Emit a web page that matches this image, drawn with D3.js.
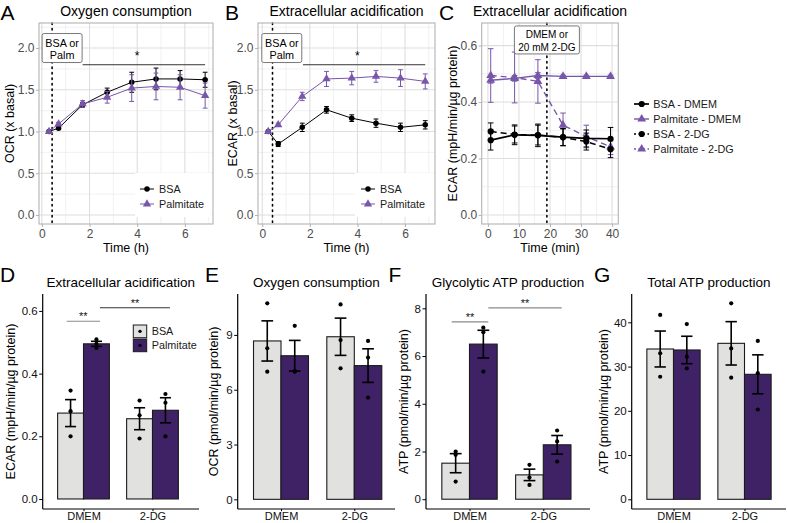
<!DOCTYPE html>
<html><head><meta charset="utf-8">
<script src="https://cdn.jsdelivr.net/npm/d3@7/dist/d3.min.js"></script>
<style>html,body{margin:0;padding:0;background:#fff}svg{display:block}</style>
</head><body>
<svg id="fig" width="787" height="523"></svg>
<script>
// ---------------- DATA ----------------
// Panels A & B: fold over basal, time in hours
const timeA = [0.3, 0.7, 1.71, 2.74, 3.77, 4.79, 5.8, 6.85];
const ocrBSA = [1.0, 1.04, 1.32, 1.47, 1.59, 1.63, 1.63, 1.62];
const ocrBSAse = [0, 0.015, 0.03, 0.05, 0.12, 0.13, 0.10, 0.09];
const ocrPalm = [1.0, 1.09, 1.33, 1.41, 1.52, 1.54, 1.53, 1.43];
const ocrPalmse = [0, 0.02, 0.04, 0.07, 0.16, 0.16, 0.15, 0.15];
const timeB = [0.25, 0.67, 1.68, 2.7, 3.76, 4.78, 5.81, 6.85];
const ecarBSA = [1.0, 0.85, 1.05, 1.26, 1.16, 1.10, 1.05, 1.08];
const ecarBSAse = [0, 0.03, 0.05, 0.04, 0.04, 0.05, 0.05, 0.05];
const ecarPalm = [1.0, 1.08, 1.42, 1.63, 1.64, 1.66, 1.64, 1.60];
const ecarPalmse = [0, 0.02, 0.05, 0.09, 0.08, 0.07, 0.10, 0.09];
const injectAB = 0.43;
const labelAB = ["BSA or", "Palm"];
const sigAB = {from: 1.71, to: 6.85, y: 1.8, at: 4, text: "*"};
const legendAB = ["BSA", "Palmitate"];

// Panel C: ECAR, time in minutes
const timeC = [0.9, 8.6, 16.1, 24.2, 31.7, 39.5];
const seriesC = ["BSA - DMEM", "Palmitate - DMEM", "BSA - 2-DG", "Palmitate - 2-DG"];
const cBSA_DMEM = [0.265, 0.284, 0.282, 0.276, 0.271, 0.270];
const cBSA_DMEMse = [0.035, 0.035, 0.04, 0.03, 0.03, 0.04];
const cPalm_DMEM = [0.477, 0.484, 0.494, 0.491, 0.491, 0.491];
const cPalm_DMEMse = [0.01, 0.01, 0.01, 0.004, 0.004, 0.004];
const cBSA_2DG = [0.296, 0.285, 0.283, 0.275, 0.260, 0.233];
const cBSA_2DGse = [0.03, 0.03, 0.035, 0.03, 0.03, 0.03];
const cPalm_2DG = [0.494, 0.487, 0.473, 0.318, 0.278, 0.241];
const cPalm_2DGse = [0.095, 0.09, 0.077, 0.043, 0.04, 0.027];
const injectC = 19;
const labelC = ["DMEM or", "20 mM 2-DG"];

// Bar panels D-G
const barGroups = ["DMEM", "2-DG"];
const barTreat = ["BSA", "Palmitate"];
const dBSA = [0.274, 0.256], dBSAse = [0.043, 0.035];
const dPalm = [0.495, 0.283], dPalmse = [0.008, 0.04];
const dBSApts = [[0.346, 0.28, 0.2], [0.314, 0.267, 0.193]];
const dPalmpts = [[0.509, 0.495, 0.482], [0.335, 0.307, 0.2]];
const eBSA = [8.67, 8.9], eBSAse = [1.1, 1.02];
const ePalm = [7.86, 7.32], ePalmse = [0.84, 0.92];
const eBSApts = [[10.73, 8.27, 6.99], [10.67, 8.72, 7.17]];
const ePalmpts = [[9.5, 7.02, 6.99], [8.67, 7.76, 5.57]];
const fBSA = [1.51, 1.02], fBSAse = [0.4, 0.24];
const fPalm = [6.5, 2.28], fPalmse = [0.58, 0.39];
const fBSApts = [[2.0, 1.86, 0.74], [1.44, 0.91, 0.6]];
const fPalmpts = [[7.19, 7.0, 5.35], [2.88, 2.42, 1.58]];
const gBSA = [33.97, 35.25], gBSAse = [4.06, 4.9];
const gPalm = [33.75, 28.25], gPalmse = [3.1, 4.4];
const gBSApts = [[41.66, 33.0, 27.7], [44.3, 34.1, 27.5]];
const gPalmpts = [[39.6, 32.2, 29.6], [35.8, 28.5, 20.3]];

// ---------------- DRAWING ----------------
const FONT = "'Liberation Sans', Arial, Helvetica, sans-serif";
const PURPLE = "#7856aa";
const BARPURPLE = "#3f2266";
const BSAFILL = "#e1e2e0";
const svg = d3.select("#fig").attr("font-family", FONT);

function txt(g, x, y, s, fs, opts = {}) {
  const t = g.append("text").attr("x", x).attr("y", y).attr("font-size", fs)
    .attr("fill", opts.fill || "#000").attr("text-anchor", opts.anchor || "start").text(s);
  if (opts.rotate) t.attr("transform", `rotate(-90,${x},${y})`);
  return t;
}
function styleAxis(a, fs, tc, lc, lw) {
  a.attr("font-family", FONT).attr("font-size", fs);
  a.select(".domain").remove();
  a.selectAll(".tick line").attr("stroke", lc).attr("stroke-width", lw);
  a.selectAll(".tick text").attr("fill", tc);
}

function topPanel(c) {
  const g = svg.append("g");
  const x = d3.scaleLinear().domain(c.xd).range([c.x0, c.x1]);
  const y = d3.scaleLinear().domain(c.yd).range([c.y1, c.y0]);
  g.append("rect").attr("x", c.x0).attr("y", c.y0).attr("width", c.x1 - c.x0).attr("height", c.y1 - c.y0).attr("fill", "#fff");
  const grid = g.append("g");
  const vline = (v, col, w) => grid.append("line").attr("x1", x(v)).attr("x2", x(v)).attr("y1", c.y0).attr("y2", c.y1).attr("stroke", col).attr("stroke-width", w);
  const hline = (v, col, w) => grid.append("line").attr("y1", y(v)).attr("y2", y(v)).attr("x1", c.x0).attr("x2", c.x1).attr("stroke", col).attr("stroke-width", w);
  c.xMinor.forEach(v => vline(v, "#ebebeb", 0.7));
  c.yMinor.forEach(v => hline(v, "#ebebeb", 0.7));
  c.xMajor.forEach(v => vline(v, "#dedede", 1.1));
  c.yMajor.forEach(v => hline(v, "#dedede", 1.1));
  const ax = g.append("g").attr("transform", `translate(0,${c.y1})`)
    .call(d3.axisBottom(x).tickValues(c.xMajor).tickFormat(d3.format("d")).tickSize(3).tickPadding(2));
  styleAxis(ax, 12, "#4d4d4d", "#b3b3b3", 1);
  const ay = g.append("g").attr("transform", `translate(${c.x0},0)`)
    .call(d3.axisLeft(y).tickValues(c.yMajor).tickFormat(d3.format(".1f")).tickSize(3).tickPadding(1.5));
  styleAxis(ay, 12, "#4d4d4d", "#b3b3b3", 1);
  const cx = (c.x0 + c.x1) / 2;
  txt(g, cx, 16, c.title, 14, {anchor: "middle"});
  txt(g, c.letterX, 19.5, c.letter, 21);
  txt(g, cx, 252, c.xTitle, 12.5, {anchor: "middle"});
  txt(g, c.yTitleX, (c.y0 + c.y1) / 2, c.yTitle, 12.5, {anchor: "middle", rotate: true});
  return {g, x, y, c};
}
function finishTop(p) {
  const c = p.c;
  p.g.append("rect").attr("x", c.x0).attr("y", c.y0).attr("width", c.x1 - c.x0).attr("height", c.y1 - c.y0)
    .attr("fill", "none").attr("stroke", "#b3b3b3").attr("stroke-width", 1.1);
}
function marker(g, shape, cx, cy, sz, col) {
  if (shape === "circle") {
    g.append("circle").attr("cx", cx).attr("cy", cy).attr("r", Math.sqrt(sz / Math.PI)).attr("fill", col);
  } else {
    g.append("path").attr("d", d3.symbol(d3.symbolTriangle, sz)()).attr("transform", `translate(${cx},${cy})`).attr("fill", col);
  }
}
function series(p, xs, ys, se, o) {
  const data = xs.map((t, i) => ({t, v: ys[i], e: se[i]}));
  const eb = p.g.append("g").attr("stroke", o.color).attr("stroke-width", o.ebw || 1);
  data.filter(d => d.e > 0).forEach(d => {
    const X = p.x(d.t);
    eb.append("line").attr("x1", X).attr("x2", X).attr("y1", p.y(d.v - d.e)).attr("y2", p.y(d.v + d.e));
    [d.v - d.e, d.v + d.e].forEach(v => eb.append("line").attr("x1", X - o.cap).attr("x2", X + o.cap).attr("y1", p.y(v)).attr("y2", p.y(v)));
  });
  p.g.append("path").datum(data)
    .attr("d", d3.line().x(d => p.x(d.t)).y(d => p.y(d.v)))
    .attr("fill", "none").attr("stroke", o.color).attr("stroke-width", o.lw)
    .attr("stroke-dasharray", o.dash || null);
  const pg = p.g.append("g");
  data.forEach(d => marker(pg, o.shape, p.x(d.t), p.y(d.v), o.size, o.color));
}
function labelBox(p, xv, yv, lines, fs, w, h) {
  const X = p.x(xv), Y = p.y(yv);
  p.g.append("rect").attr("x", X - w / 2).attr("y", Y - h / 2).attr("width", w).attr("height", h)
    .attr("rx", 2).attr("fill", "#fff").attr("stroke", "#555").attr("stroke-width", 0.8);
  txt(p.g, X, Y - 1.5, lines[0], fs, {anchor: "middle"});
  txt(p.g, X, Y + 11, lines[1], fs, {anchor: "middle"});
}
function injection(p, t) {
  p.g.append("line").attr("x1", p.x(t)).attr("x2", p.x(t)).attr("y1", p.c.y0).attr("y2", p.c.y1)
    .attr("stroke", "#000").attr("stroke-width", 1.6).attr("stroke-dasharray", "1.5,4").attr("stroke-linecap", "round");
}
function sigTop(p, s) {
  p.g.append("line").attr("x1", p.x(s.from)).attr("x2", p.x(s.to)).attr("y1", p.y(s.y)).attr("y2", p.y(s.y))
    .attr("stroke", "#333").attr("stroke-width", 1);
  txt(p.g, p.x(s.at), p.y(s.y) - 4.5, s.text, 12, {anchor: "middle"});
}
function legendTop(p, bx, by, bw, bh, kx, tx, rows, items) {
  p.g.append("rect").attr("x", bx).attr("y", by).attr("width", bw).attr("height", bh).attr("fill", "#fff");
  items.forEach((it, i) => {
    const Y = rows[i];
    p.g.append("line").attr("x1", kx - 7).attr("x2", kx + 7).attr("y1", Y).attr("y2", Y)
      .attr("stroke", it.color).attr("stroke-width", it.lw).attr("stroke-dasharray", it.dash || null);
    marker(p.g, it.shape, kx, Y, it.size, it.color);
    txt(p.g, tx, Y + 4, it.label, 10.8, {fill: "#1a1a1a"});
  });
}

// ---- Panel A ----
const pA = topPanel({x0: 39, x1: 213, y0: 23, y1: 224, xd: [-0.12, 7.18], yd: [-0.108, 2.3],
  xMajor: [0, 2, 4, 6], xMinor: [1, 3, 5, 7], yMajor: [0, 0.5, 1, 1.5, 2], yMinor: [0.25, 0.75, 1.25, 1.75, 2.25],
  title: "Oxygen consumption", letter: "A", letterX: 0.5, xTitle: "Time (h)", yTitle: "OCR (x basal)", yTitleX: 14});
legendTop(pA, 135, 173, 77, 44, 147, 159, [189, 204], [
  {label: legendAB[0], color: "#000", shape: "circle", size: 24, lw: 1},
  {label: legendAB[1], color: PURPLE, shape: "tri", size: 30, lw: 1}]);
injection(pA, injectAB);
series(pA, timeA, ocrBSA, ocrBSAse, {color: "#000", shape: "circle", size: 24, lw: 1, cap: 2.4});
series(pA, timeA, ocrPalm, ocrPalmse, {color: PURPLE, shape: "tri", size: 30, lw: 1, cap: 2.4});
sigTop(pA, sigAB);
labelBox(pA, 0.85, 2.0, labelAB, 10.8, 40, 29);
finishTop(pA);

// ---- Panel B ----
const pB = topPanel({x0: 258, x1: 435, y0: 23, y1: 224, xd: [-0.18, 7.26], yd: [-0.108, 2.3],
  xMajor: [0, 2, 4, 6], xMinor: [1, 3, 5, 7], yMajor: [0, 0.5, 1, 1.5, 2], yMinor: [0.25, 0.75, 1.25, 1.75, 2.25],
  title: "Extracellular acidification", letter: "B", letterX: 225, xTitle: "Time (h)", yTitle: "ECAR (x basal)", yTitleX: 237});
legendTop(pB, 355, 173, 79, 44, 368, 380, [189, 204], [
  {label: legendAB[0], color: "#000", shape: "circle", size: 24, lw: 1},
  {label: legendAB[1], color: PURPLE, shape: "tri", size: 30, lw: 1}]);
injection(pB, injectAB);
series(pB, timeB, ecarBSA, ecarBSAse, {color: "#000", shape: "circle", size: 24, lw: 1, cap: 2.4});
series(pB, timeB, ecarPalm, ecarPalmse, {color: PURPLE, shape: "tri", size: 30, lw: 1, cap: 2.4});
sigTop(pB, sigAB);
labelBox(pB, 0.82, 2.0, labelAB, 10.8, 40, 29);
finishTop(pB);

// ---- Panel C ----
const pC = topPanel({x0: 481.7, x1: 618.3, y0: 23, y1: 224, xd: [-2, 42], yd: [-0.032, 0.68],
  xMajor: [0, 10, 20, 30, 40], xMinor: [5, 15, 25, 35], yMajor: [0, 0.2, 0.4, 0.6], yMinor: [0.1, 0.3, 0.5],
  title: "Extracellular acidification", letter: "C", letterX: 439, xTitle: "Time (min)", yTitle: "ECAR (mpH/min/\u00b5g protein)", yTitleX: 457});
injection(pC, injectC);
series(pC, timeC, cPalm_DMEM, cPalm_DMEMse, {color: PURPLE, shape: "tri", size: 34, lw: 1.4, cap: 2.8});
series(pC, timeC, cPalm_2DG, cPalm_2DGse, {color: PURPLE, shape: "tri", size: 34, lw: 1.4, cap: 2.8, dash: "6,4"});
series(pC, timeC, cBSA_DMEM, cBSA_DMEMse, {color: "#000", shape: "circle", size: 30, lw: 1.7, cap: 2.8});
series(pC, timeC, cBSA_2DG, cBSA_2DGse, {color: "#000", shape: "circle", size: 30, lw: 1.5, cap: 2.8, dash: "6,4"});
labelBox(pC, injectC, 0.62, labelC, 10, 65, 28);
finishTop(pC);
// legend C (outside panel)
const legC = svg.append("g");
[{color: "#000", shape: "circle", size: 30, lw: 1.7},
 {color: PURPLE, shape: "tri", size: 34, lw: 1.4},
 {color: "#000", shape: "circle", size: 30, lw: 1.5, dash: "2,2.5"},
 {color: PURPLE, shape: "tri", size: 34, lw: 1.4, dash: "2,2.5"}].forEach((it, i) => {
  const Y = 104 + i * 15;
  legC.append("line").attr("x1", 634).attr("x2", 649).attr("y1", Y).attr("y2", Y)
    .attr("stroke", it.color).attr("stroke-width", it.lw).attr("stroke-dasharray", it.dash || null);
  marker(legC, it.shape, 641.7, Y, it.size, it.color);
  txt(legC, 653.3, Y + 4, seriesC[i], 10.8, {fill: "#1a1a1a"});
});

// ---- Bar panels ----
function barPanel(c) {
  const g = svg.append("g");
  const x = d3.scaleLinear().domain([1, 2]).range([c.c1, c.c2]);
  const y = d3.scaleLinear().domain(c.yd).range([509, 294]);
  const sp = c.c2 - c.c1, hw = 0.375 * sp, cap = 0.08 * sp;
  const sets = [{m: c.bsa, e: c.bsaSe, pts: c.bsaPts, fill: BSAFILL, off: -hw / 2},
                {m: c.palm, e: c.palmSe, pts: c.palmPts, fill: BARPURPLE, off: hw / 2}];
  sets.forEach(s => {
    s.m.forEach((v, i) => {
      const cx = x(i + 1) + s.off;
      g.append("rect").attr("x", cx - hw / 2).attr("width", hw).attr("y", y(v)).attr("height", y(0) - y(v))
        .attr("fill", s.fill).attr("stroke", "#1a1a1a").attr("stroke-width", 1.1);
    });
  });
  sets.forEach(s => {
    s.m.forEach((v, i) => {
      const cx = x(i + 1) + s.off;
      const eg = g.append("g").attr("stroke", "#000").attr("stroke-width", 1.6);
      eg.append("line").attr("x1", cx).attr("x2", cx).attr("y1", y(v - s.e[i])).attr("y2", y(v + s.e[i]));
      [v - s.e[i], v + s.e[i]].forEach(w => eg.append("line").attr("x1", cx - cap).attr("x2", cx + cap).attr("y1", y(w)).attr("y2", y(w)));
      s.pts[i].forEach(pv => g.append("circle").attr("cx", cx).attr("cy", y(pv)).attr("r", 2.1).attr("fill", "#000"));
    });
  });
  // axes
  const ax = g.append("g").attr("transform", "translate(0,509)")
    .call(d3.axisBottom(x).tickValues([1, 2]).tickFormat(i => barGroups[i - 1]).tickSize(2.2).tickPadding(1));
  styleAxis(ax, 11, "#111", "#000", 1);
  const ay = g.append("g").attr("transform", `translate(${c.axX0},0)`)
    .call(d3.axisLeft(y).tickValues(c.yTicks).tickFormat(d3.format(c.yFmt)).tickSize(3.5).tickPadding(1.5));
  styleAxis(ay, 11.5, "#111", "#000", 1);
  g.append("line").attr("x1", c.axX0).attr("x2", c.axX1).attr("y1", 509).attr("y2", 509).attr("stroke", "#000").attr("stroke-width", 1.2);
  g.append("line").attr("x1", c.axX0).attr("x2", c.axX0).attr("y1", 294).attr("y2", 509).attr("stroke", "#000").attr("stroke-width", 1.2);
  txt(g, (c.axX0 + c.axX1) / 2, 287, c.title, 13.5, {anchor: "middle"});
  txt(g, c.letterX, 282, c.letter, 21);
  txt(g, c.yTitleX, 401.5, c.yTitle, 12.5, {anchor: "middle", rotate: true});
  (c.sig || []).forEach(s => {
    g.append("line").attr("x1", s.x1).attr("x2", s.x2).attr("y1", y(s.y)).attr("y2", y(s.y)).attr("stroke", s.col).attr("stroke-width", 1.1);
    txt(g, (s.x1 + s.x2) / 2, y(s.y) - 1, "**", 11, {anchor: "middle", fill: "#111"});
  });
  return {g, x, y};
}

const pD = barPanel({axX0: 42.7, axX1: 199, c1: 83.5, c2: 152.5, yd: [-0.032, 0.654], yTicks: [0, 0.2, 0.4, 0.6], yFmt: ".1f",
  bsa: dBSA, bsaSe: dBSAse, palm: dPalm, palmSe: dPalmse, bsaPts: dBSApts, palmPts: dPalmpts,
  title: "Extracellular acidification", letter: "D", letterX: 0, yTitle: "ECAR (mpH/min/\u00b5g protein)", yTitleX: 15,
  sig: [{x1: 66.7, x2: 100, y: 0.567, col: "#8a8a8a"}, {x1: 100, x2: 170, y: 0.61, col: "#333"}]});
// legend D
[{fill: BSAFILL, label: barTreat[0]}, {fill: BARPURPLE, label: barTreat[1]}].forEach((it, i) => {
  const Y = 325 + i * 14;
  pD.g.append("rect").attr("x", 133.3).attr("y", Y).attr("width", 13.4).attr("height", 12.7)
    .attr("fill", it.fill).attr("stroke", "#1a1a1a").attr("stroke-width", 1);
  pD.g.append("circle").attr("cx", 140).attr("cy", Y + 6.35).attr("r", 1.7).attr("fill", "#000");
  txt(pD.g, 151.7, Y + 10.3, it.label, 10.8, {fill: "#1a1a1a"});
});

barPanel({axX0: 237.7, axX1: 395, c1: 281, c2: 354.3, yd: [-0.53, 11.24], yTicks: [0, 3, 6, 9], yFmt: "d",
  bsa: eBSA, bsaSe: eBSAse, palm: ePalm, palmSe: ePalmse, bsaPts: eBSApts, palmPts: ePalmpts,
  title: "Oxygen consumption", letter: "E", letterX: 205, yTitle: "OCR (pmol/min/\u00b5g protein)", yTitleX: 218});
barPanel({axX0: 426, axX1: 590, c1: 469.5, c2: 543.3, yd: [-0.41, 8.6], yTicks: [0, 2, 4, 6, 8], yFmt: "d",
  bsa: fBSA, bsaSe: fBSAse, palm: fPalm, palmSe: fPalmse, bsaPts: fBSApts, palmPts: fPalmpts,
  title: "Glycolytic ATP production", letter: "F", letterX: 388.5, yTitle: "ATP (pmol/min/\u00b5g protein)", yTitleX: 408,
  sig: [{x1: 451.7, x2: 488.3, y: 7.43, col: "#8a8a8a"}, {x1: 488.3, x2: 561.7, y: 8.02, col: "#8a8a8a"}]});
barPanel({axX0: 631.7, axX1: 786, c1: 673.5, c2: 744.5, yd: [-2.19, 46.4], yTicks: [0, 10, 20, 30, 40], yFmt: "d",
  bsa: gBSA, bsaSe: gBSAse, palm: gPalm, palmSe: gPalmse, bsaPts: gBSApts, palmPts: gPalmpts,
  title: "Total ATP production", letter: "G", letterX: 594, yTitle: "ATP (pmol/min/\u00b5g protein)", yTitleX: 608});
</script>
</body></html>
